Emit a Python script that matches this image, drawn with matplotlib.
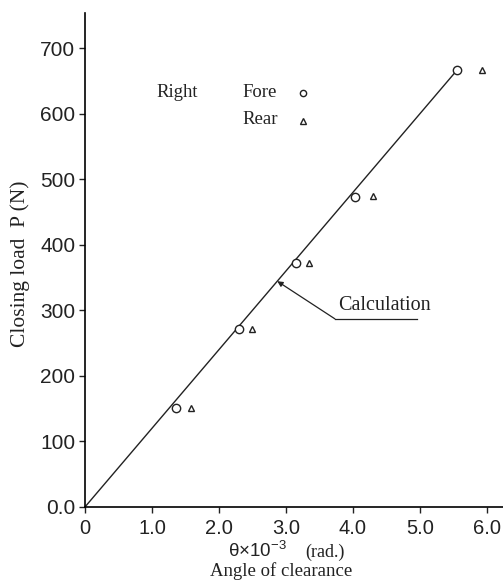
import matplotlib.pyplot as plt

plt.rcParams["mathtext.fontset"] = "custom"
plt.rcParams["mathtext.rm"] = "Liberation Sans"

# measured points, right side (theta in 1e-3 rad, load in N)
fore_theta = [1.36, 2.30, 3.15, 4.03, 5.55]
fore_load = [151, 272, 372, 473, 666]
rear_theta = [1.58, 2.50, 3.34, 4.30, 5.93]
rear_load = [151, 271, 372, 474, 666]

# calculated straight line
calc_theta = [0.0, 5.55]
calc_load = [0.0, 666.0]

xticks = [0, 1, 2, 3, 4, 5, 6]
xtick_labels = ["0", "1.0", "2.0", "3.0", "4.0", "5.0", "6.0"]
yticks = [0, 100, 200, 300, 400, 500, 600, 700]
ytick_labels = ["0.0", "100", "200", "300", "400", "500", "600", "700"]

sans = "Liberation Sans"
serif = "Liberation Serif"
ink = "#222222"

fig = plt.figure(figsize=(5.03, 5.80), dpi=100)
ax = fig.add_axes([0.169, 0.126, 0.831, 0.852])

ax.plot(calc_theta, calc_load, color=ink, lw=1.0)
ax.plot(fore_theta, fore_load, "o", ms=6, mfc="white", mec=ink, mew=1.0, ls="none")
ax.plot(rear_theta, rear_load, "^", ms=5, mfc="white", mec=ink, mew=1.0, ls="none")

ax.set_xlim(0, 6.24)
ax.set_ylim(0, 754)
ax.spines["top"].set_visible(False)
ax.spines["right"].set_visible(False)
ax.spines["left"].set_linewidth(1.2)
ax.spines["bottom"].set_linewidth(1.2)
ax.set_xticks(xticks)
ax.set_xticklabels(xtick_labels, fontfamily=sans, fontsize=14.5)
ax.set_yticks(yticks)
ax.set_yticklabels(ytick_labels, fontfamily=sans, fontsize=15)
ax.tick_params(axis="both", direction="out", length=4, width=1.0, colors=ink, pad=3)
ax.tick_params(axis="x", pad=5)

# leader to the calculated line, then underline under the label
slope = calc_load[1] / calc_theta[1]
ax.annotate("", xy=(2.87, slope * 2.87), xytext=(3.73, 287),
            arrowprops=dict(arrowstyle="-|>", color=ink, lw=0.9,
                            mutation_scale=8, shrinkA=0, shrinkB=0))
ax.plot([3.73, 4.96], [287, 287], color=ink, lw=0.9)
ax.text(3.78, 293, "Calculation", fontfamily=serif, fontsize=14.5,
        ha="left", va="bottom", color=ink)

# key
ax.text(0.172, 0.838, "Right", transform=ax.transAxes, fontfamily=serif,
        fontsize=13.5, va="center", color=ink)
ax.text(0.376, 0.838, "Fore", transform=ax.transAxes, fontfamily=serif,
        fontsize=13.5, va="center", color=ink)
ax.text(0.376, 0.783, "Rear", transform=ax.transAxes, fontfamily=serif,
        fontsize=13.5, va="center", color=ink)
ax.plot([0.522], [0.838], "o", ms=4.5, mfc="white", mec=ink, mew=1.0,
        transform=ax.transAxes)
ax.plot([0.522], [0.781], "^", ms=4.5, mfc="white", mec=ink, mew=1.0,
        transform=ax.transAxes)

# axis titles
fig.text(0.040, 0.545, "Closing load  P (N)", rotation=90, fontfamily=serif,
         fontsize=15.5, ha="center", va="center", color=ink)
fig.text(0.453, 0.040, "θ×10$^{-3}$", fontfamily=sans, fontsize=13.5,
         ha="left", va="baseline", color=ink)
fig.text(0.607, 0.040, "(rad.)", fontfamily=serif, fontsize=13,
         ha="left", va="baseline", color=ink)
fig.text(0.559, 0.007, "Angle of clearance", fontfamily=serif, fontsize=13.5,
         ha="center", va="baseline", color=ink)

fig.savefig("out.png", dpi=100)
